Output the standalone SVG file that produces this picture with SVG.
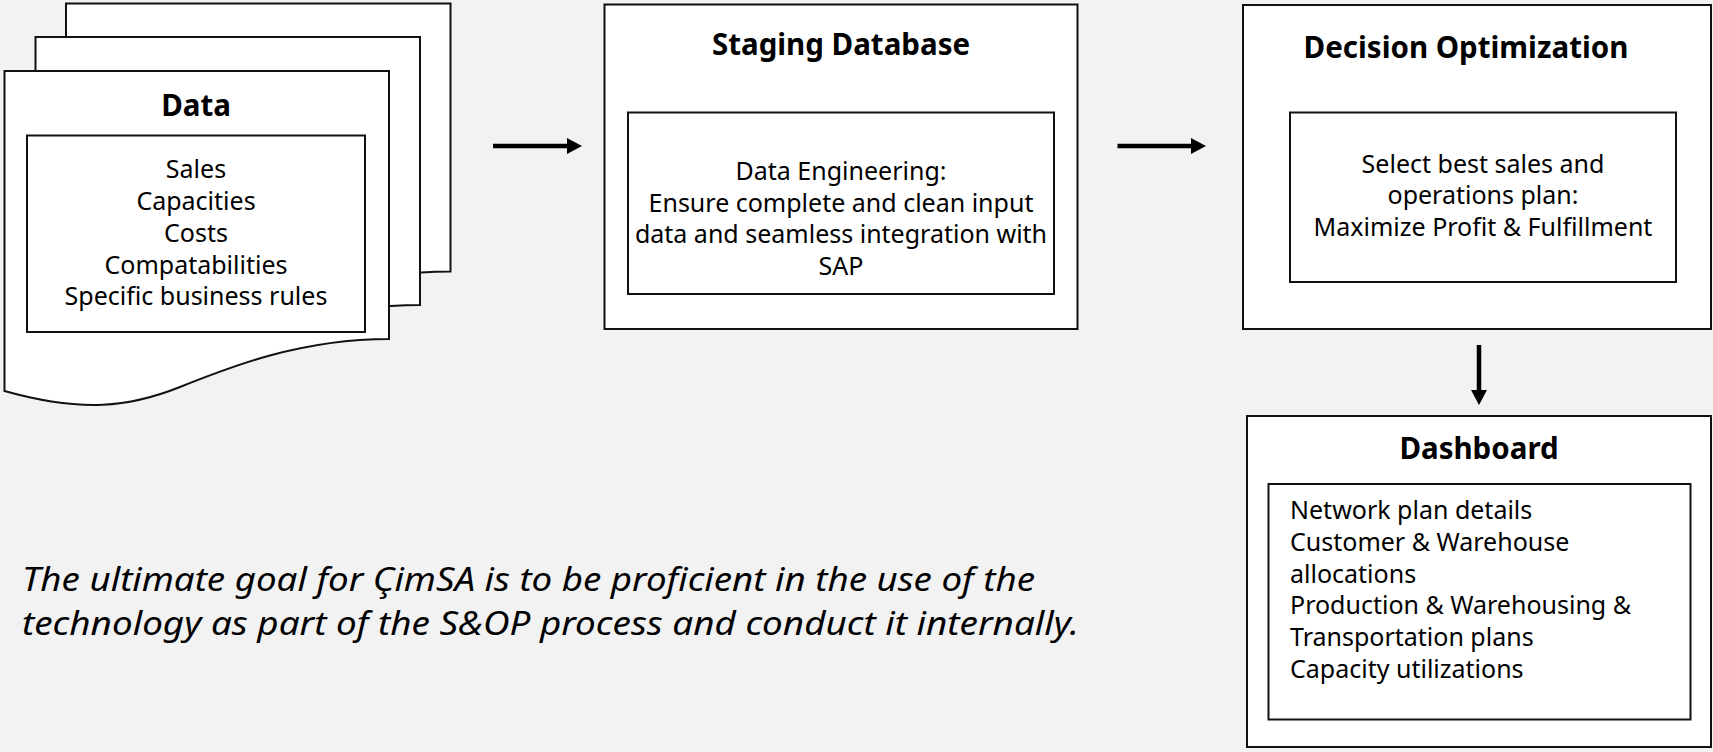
<svg xmlns="http://www.w3.org/2000/svg" width="1713" height="752" viewBox="0 0 1713 752">
  <style>
    .box { fill: #ffffff; stroke: #111111; stroke-width: 2; }
    .title { font-family: "Noto Sans", "Liberation Sans", sans-serif; font-weight: bold; font-size: 29.5px; fill: #000000; text-anchor: middle; }
    .body { font-family: "Noto Sans", "Liberation Sans", sans-serif; font-size: 25px; fill: #000000; }
    .mid { text-anchor: middle; }
    .note { font-family: "Noto Sans", "Liberation Sans", sans-serif; font-style: italic; font-size: 32px; fill: #000000; }
    .conn { stroke: #000000; stroke-width: 4.5; fill: none; marker-end: url(#head); }
  </style>
  <defs>
    <marker id="head" markerUnits="userSpaceOnUse" markerWidth="15" markerHeight="16" refX="0" refY="8" orient="auto">
      <path d="M0,0 L15,8 L0,16 Z" fill="#000000"/>
    </marker>
    <path id="docShape" d="M0,0 H384.5 V268 C295.5,268 225.5,296 175.5,316 C125.5,336 78,342 0,320 Z"/>
  </defs>
  <rect x="0" y="0" width="1713" height="752" fill="#f2f2f2"/>

  <g id="node-data">
    <use href="#docShape" class="box" transform="translate(66,3.5)"/>
    <use href="#docShape" class="box" transform="translate(35.5,37)"/>
    <use href="#docShape" class="box" transform="translate(4.5,71)"/>
    <text class="title" x="196" y="116">Data</text>
    <rect class="box" x="27" y="135.5" width="338" height="196.5"/>
    <text class="body mid" x="196" y="178">Sales</text>
    <text class="body mid" x="196" y="210">Capacities</text>
    <text class="body mid" x="196" y="241.5">Costs</text>
    <text class="body mid" x="196" y="273.5">Compatabilities</text>
    <text class="body mid" x="196" y="305">Specific business rules</text>
  </g>

  <g id="node-staging">
    <rect class="box" x="604.5" y="4.5" width="473" height="324.5"/>
    <text class="title" x="841" y="55">Staging Database</text>
    <rect class="box" x="628" y="112.5" width="426" height="181.5"/>
    <text class="body mid" x="841" y="180">Data Engineering:</text>
    <text class="body mid" x="841" y="211.7">Ensure complete and clean input</text>
    <text class="body mid" x="841" y="243.3">data and seamless integration with</text>
    <text class="body mid" x="841" y="275">SAP</text>
  </g>

  <g id="node-optimization">
    <rect class="box" x="1243" y="5" width="468" height="324"/>
    <text class="title" x="1466" y="58">Decision Optimization</text>
    <rect class="box" x="1290" y="112.5" width="386" height="169.5"/>
    <text class="body mid" x="1483" y="172.7">Select best sales and</text>
    <text class="body mid" x="1483" y="204">operations plan:</text>
    <text class="body mid" x="1483" y="235.7">Maximize Profit &amp; Fulfillment</text>
  </g>

  <g id="node-dashboard">
    <rect class="box" x="1247" y="416" width="464" height="331"/>
    <text class="title" x="1479" y="459">Dashboard</text>
    <rect class="box" x="1268.5" y="484" width="422" height="235.5"/>
    <text class="body" x="1290" y="519">Network plan details</text>
    <text class="body" x="1290" y="550.8">Customer &amp; Warehouse</text>
    <text class="body" x="1290" y="582.6">allocations</text>
    <text class="body" x="1290" y="614.4">Production &amp; Warehousing &amp;</text>
    <text class="body" x="1290" y="646.2">Transportation plans</text>
    <text class="body" x="1290" y="678">Capacity utilizations</text>
  </g>

  <g id="connectors">
    <line class="conn" x1="493" y1="146" x2="567" y2="146"/>
    <line class="conn" x1="1117.5" y1="146" x2="1191" y2="146"/>
    <line class="conn" x1="1479" y1="345" x2="1479" y2="390"/>
  </g>

  <g id="note">
    <text class="note" x="22" y="591" textLength="1013" lengthAdjust="spacingAndGlyphs">The ultimate goal for ÇimSA is to be proficient in the use of the</text>
    <text class="note" x="22" y="635" textLength="1057" lengthAdjust="spacingAndGlyphs">technology as part of the S&amp;OP process and conduct it internally.</text>
  </g>
</svg>
